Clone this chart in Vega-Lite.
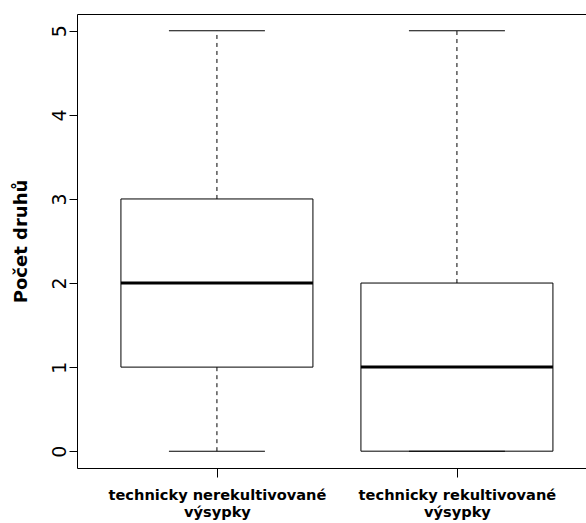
{
  "$schema": "https://vega.github.io/schema/vega-lite/v6.json",
  "autosize": "none",
  "padding": {"left": 77, "top": 14, "right": 0, "bottom": 55},
  "width": 509,
  "height": 454,
  "background": "white",
  "config": {
    "view": {"stroke": null},
    "font": "DejaVu Sans",
    "axis": {"grid": false, "domainColor": "black", "tickColor": "black", "labelColor": "black", "titleColor": "black", "domainWidth": 1, "tickWidth": 1}
  },
  "data": {
    "values": [
      {"group": 1, "label": "technicky nerekultivované výsypky", "min": 0, "q1": 1, "median": 2, "q3": 3, "max": 5},
      {"group": 2, "label": "technicky rekultivované výsypky", "min": 0, "q1": 0, "median": 1, "q3": 2, "max": 5}
    ]
  },
  "resolve": {"axis": {"x": "independent", "y": "independent"}},
  "layer": [
    {
      "mark": {"type": "rule", "color": "black", "strokeWidth": 1, "strokeDash": [4, 4]},
      "encoding": {
        "x": {"field": "group", "type": "quantitative", "scale": {"domain": [0.417, 2.5378], "nice": false, "zero": false, "padding": 0},
          "axis": {"orient": "bottom", "values": [1, 2], "tickSize": 9, "domain": true, "labelPadding": 10, "labelBaseline": "top", "labelAlign": "center", "labelFont": "DejaVu Sans", "labelFontWeight": "bold", "labelFontSize": 14.6, "labelLineHeight": 17, "labelLimit": 0, "labelFlush": false, "labelOverlap": false, "title": null,
            "labelExpr": "datum.value == 1 ? ['technicky nerekultivované', 'výsypky'] : ['technicky rekultivované', 'výsypky']"}},
        "y": {"field": "q3", "type": "quantitative", "scale": {"domain": [-0.2, 5.2], "nice": false, "zero": false, "padding": 0},
          "axis": {"orient": "left", "values": [0, 1, 2, 3, 4, 5], "tickSize": 8, "domain": true, "labelAngle": -90, "labelAlign": "center", "labelBaseline": "alphabetic", "labelPadding": 4, "labelFont": "DejaVu Sans", "labelFontSize": 19, "labelFlush": false, "labelOverlap": false,
            "title": "Počet druhů", "titleFont": "DejaVu Sans", "titleFontWeight": "bold", "titleFontSize": 18, "titleAngle": -90, "titleX": -51, "titleY": 227, "titleAlign": "center", "titleBaseline": "alphabetic"}},
        "y2": {"field": "max"}
      }
    },
    {
      "mark": {"type": "rule", "color": "black", "strokeWidth": 1, "strokeDash": [4, 4]},
      "encoding": {
        "x": {"field": "group", "type": "quantitative", "scale": {"domain": [0.417, 2.5378], "nice": false, "zero": false, "padding": 0},
          "axis": {"orient": "top", "domain": true, "ticks": false, "labels": false, "title": null}},
        "y": {"field": "min", "type": "quantitative", "scale": {"domain": [-0.2, 5.2], "nice": false, "zero": false, "padding": 0}, "axis": null},
        "y2": {"field": "q1"}
      }
    },
    {
      "mark": {"type": "bar", "fill": "white", "stroke": "black", "strokeWidth": 1, "width": 192},
      "encoding": {
        "x": {"field": "group", "type": "quantitative", "scale": {"domain": [0.417, 2.5378], "nice": false, "zero": false, "padding": 0}, "axis": null},
        "y": {"field": "q1", "type": "quantitative", "scale": {"domain": [-0.2, 5.2], "nice": false, "zero": false, "padding": 0}, "axis": null},
        "y2": {"field": "q3"}
      }
    },
    {
      "mark": {"type": "tick", "orient": "horizontal", "color": "black", "opacity": 1, "size": 192, "thickness": 3},
      "encoding": {
        "x": {"field": "group", "type": "quantitative", "scale": {"domain": [0.417, 2.5378], "nice": false, "zero": false, "padding": 0}, "axis": null},
        "y": {"field": "median", "type": "quantitative", "scale": {"domain": [-0.2, 5.2], "nice": false, "zero": false, "padding": 0}, "axis": null}
      }
    },
    {
      "mark": {"type": "tick", "orient": "horizontal", "color": "black", "opacity": 1, "size": 96, "thickness": 1},
      "encoding": {
        "x": {"field": "group", "type": "quantitative", "scale": {"domain": [0.417, 2.5378], "nice": false, "zero": false, "padding": 0}, "axis": null},
        "y": {"field": "max", "type": "quantitative", "scale": {"domain": [-0.2, 5.2], "nice": false, "zero": false, "padding": 0}, "axis": null}
      }
    },
    {
      "mark": {"type": "tick", "orient": "horizontal", "color": "black", "opacity": 1, "size": 96, "thickness": 1},
      "encoding": {
        "x": {"field": "group", "type": "quantitative", "scale": {"domain": [0.417, 2.5378], "nice": false, "zero": false, "padding": 0}, "axis": null},
        "y": {"field": "min", "type": "quantitative", "scale": {"domain": [-0.2, 5.2], "nice": false, "zero": false, "padding": 0}, "axis": null}
      }
    }
  ]
}
